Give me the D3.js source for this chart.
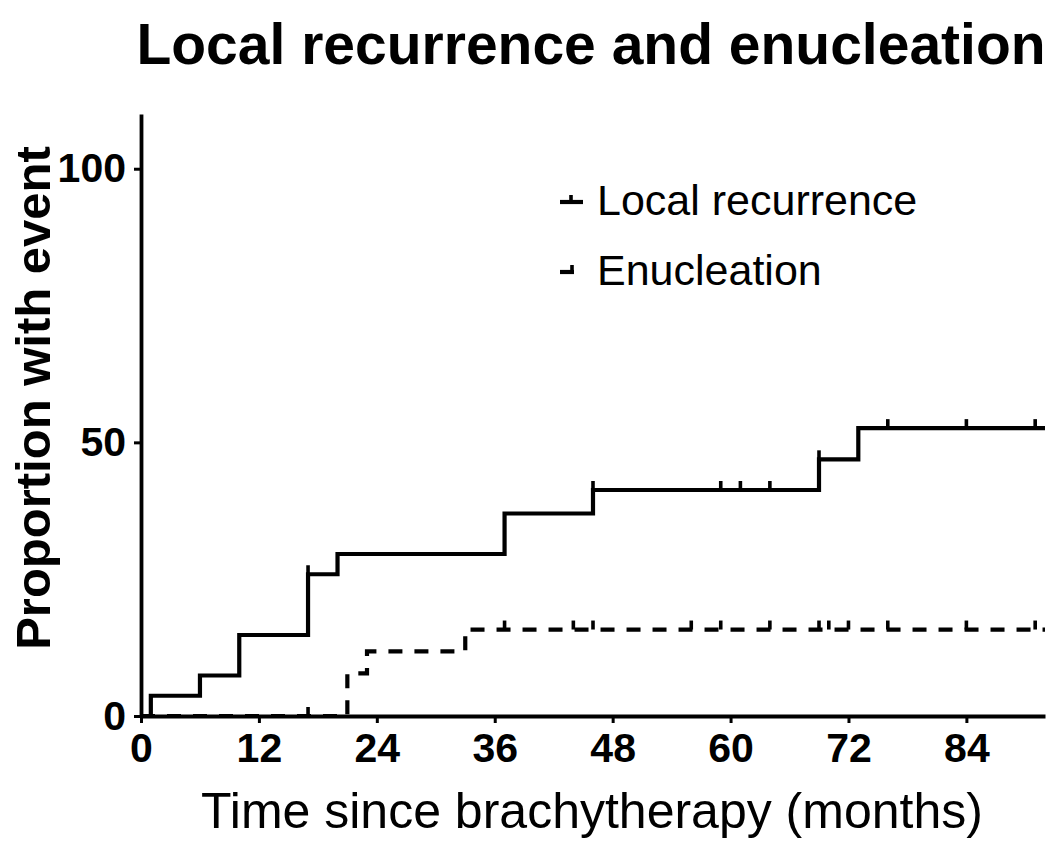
<!DOCTYPE html>
<html>
<head>
<meta charset="utf-8">
<script src="https://cdn.jsdelivr.net/npm/d3@7"></script>
<style>
  body { margin: 0; background: #fff; }
  text { font-family: "Liberation Sans", Arial, sans-serif; fill: #000; }
</style>
</head>
<body>
<div id="chart"></div>
<script>
// Local recurrence (solid): step times (months) and cumulative % with event
var lrTimes = [0, 1, 6, 10, 17, 20, 37, 46, 69, 73, 92];
var lrValues = [0, 3.7, 7.4, 14.8, 25.9, 29.6, 37.0, 41.3, 46.9, 52.6, 52.6];
var lrCensored = [17, 46, 59, 61, 64, 69, 76, 84, 91];

// Enucleation (dashed)
var enTimes = [0, 21, 23, 33, 92];
var enValues = [0, 7.8, 11.8, 15.8, 15.8];
var enCensored = [17, 37, 44, 46, 56, 59, 64, 69, 70, 72, 76, 84, 91];

var xTicks = [0, 12, 24, 36, 48, 60, 72, 84];
var yTicks = [0, 50, 100];

var svgWidth = 1050;
var svgHeight = 844;

var margin = { top: 114, right: 5, bottom: 128, left: 141 };
var width = svgWidth - margin.left - margin.right;
var height = svgHeight - margin.top - margin.bottom;

var svg = d3.select("#chart")
  .append("svg")
  .attr("width", svgWidth)
  .attr("height", svgHeight);

var chartGroup = svg.append("g")
  .attr("transform", `translate(${margin.left}, ${margin.top})`);

var xScale = d3.scaleLinear().domain([0, 92]).range([0, width]);
var yScale = d3.scaleLinear().domain([0, 110]).range([height, 0]);

// value of a step curve at time t
function stepValue(times, values, t) {
  var v = values[0];
  times.forEach(function(tt, i) { if (tt <= t) v = values[i]; });
  return v;
}

var line = d3.line()
  .x(d => xScale(d[0]))
  .y(d => yScale(d[1]))
  .curve(d3.curveStepAfter);

function drawCurve(times, values, censored, dashed) {
  var pts = times.map((t, i) => [t, values[i]]);
  chartGroup.append("path")
    .datum(pts)
    .attr("fill", "none")
    .attr("stroke", "#000")
    .attr("stroke-width", 4.2)
    .attr("stroke-dasharray", dashed ? "14,12" : null)
    .attr("d", line);

  chartGroup.selectAll(null)
    .data(censored)
    .enter()
    .append("line")
    .attr("x1", d => xScale(d))
    .attr("x2", d => xScale(d))
    .attr("y1", d => yScale(stepValue(times, values, d)))
    .attr("y2", d => yScale(stepValue(times, values, d)) - 9)
    .attr("stroke", "#000")
    .attr("stroke-width", 3.6);
}

drawCurve(enTimes, enValues, enCensored, true);
drawCurve(lrTimes, lrValues, lrCensored, false);

// axes
var bottomAxis = d3.axisBottom(xScale)
  .tickValues(xTicks)
  .tickSize(7)
  .tickSizeOuter(0)
  .tickPadding(10);

var leftAxis = d3.axisLeft(yScale)
  .tickValues(yTicks)
  .tickSize(7)
  .tickSizeOuter(0)
  .tickPadding(8);

var xAxis = chartGroup.append("g")
  .attr("transform", `translate(0, ${height})`)
  .call(bottomAxis);

var yAxis = chartGroup.append("g")
  .call(leftAxis);

[xAxis, yAxis].forEach(function(ax) {
  ax.select(".domain").attr("stroke-width", 3.8);
  ax.selectAll(".tick line").attr("stroke-width", 3);
  ax.selectAll(".tick text")
    .style("font-size", "41px")
    .style("font-weight", "bold")
    .style("font-family", "'Liberation Sans', Arial, sans-serif");
});

// title and axis labels
svg.append("text")
  .attr("x", 591)
  .attr("y", 64)
  .attr("text-anchor", "middle")
  .style("font-size", "57px")
  .style("font-weight", "bold")
  .text("Local recurrence and enucleation");

svg.append("text")
  .attr("x", 592)
  .attr("y", 828)
  .attr("text-anchor", "middle")
  .style("font-size", "50px")
  .text("Time since brachytherapy (months)");

svg.append("text")
  .attr("transform", "translate(50, 398) rotate(-90)")
  .attr("text-anchor", "middle")
  .style("font-size", "49px")
  .style("font-weight", "bold")
  .text("Proportion with event");

// legend
var legend = svg.append("g");

legend.append("line")
  .attr("x1", 560).attr("x2", 583)
  .attr("y1", 202).attr("y2", 202)
  .attr("stroke", "#000").attr("stroke-width", 4.2);
legend.append("line")
  .attr("x1", 571).attr("x2", 571)
  .attr("y1", 202).attr("y2", 195)
  .attr("stroke", "#000").attr("stroke-width", 3.6);
legend.append("text")
  .attr("x", 597).attr("y", 215)
  .style("font-size", "43px")
  .text("Local recurrence");

legend.append("line")
  .attr("x1", 560).attr("x2", 574)
  .attr("y1", 272).attr("y2", 272)
  .attr("stroke", "#000").attr("stroke-width", 4.2);
legend.append("line")
  .attr("x1", 572).attr("x2", 572)
  .attr("y1", 272).attr("y2", 265)
  .attr("stroke", "#000").attr("stroke-width", 3.6);
legend.append("text")
  .attr("x", 597).attr("y", 285)
  .style("font-size", "43px")
  .text("Enucleation");
</script>
</body>
</html>
